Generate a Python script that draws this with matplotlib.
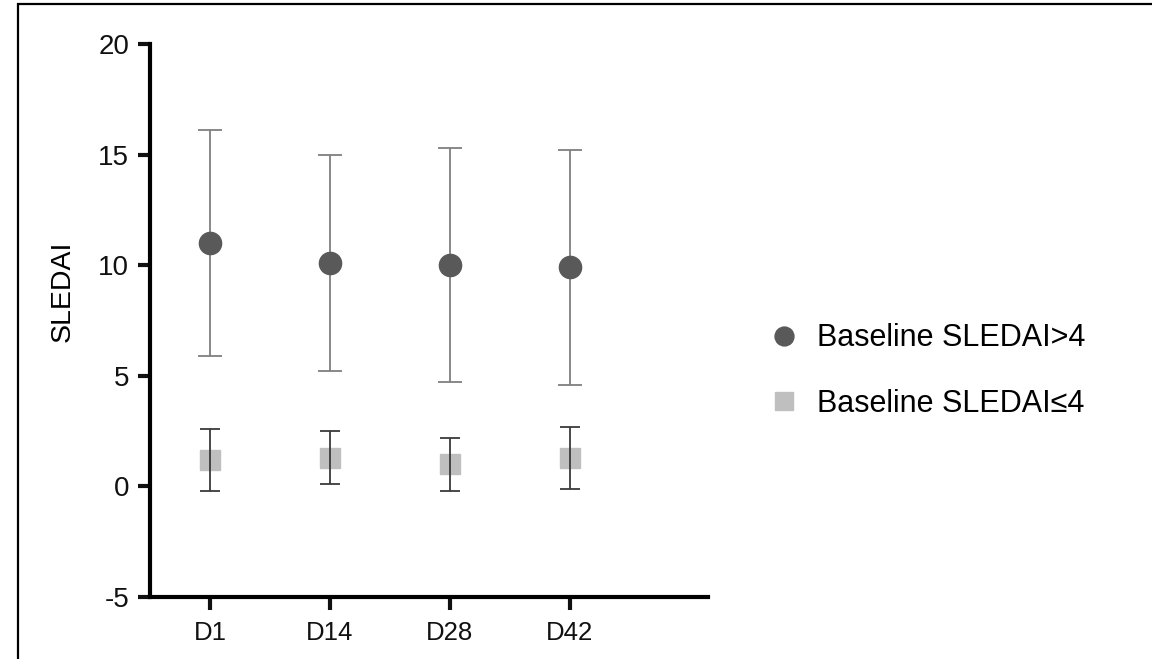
import numpy as np
import matplotlib
matplotlib.use("Agg")
import matplotlib.pyplot as plt
from matplotlib.patches import Rectangle

plt.rcParams['font.family'] = ['Liberation Sans', 'DejaVu Sans']
plt.rcParams['axes.unicode_minus'] = False

#data
days = ['D1', 'D14', 'D28', 'D42']
high_mean = [11.0, 10.1, 10.0, 9.9]
high_sd = [5.1, 4.9, 5.3, 5.3]
low_mean = [1.2, 1.3, 1.0, 1.3]
low_sd = [1.4, 1.2, 1.2, 1.4]

fig = plt.figure(figsize=(11.52, 6.59), dpi=100)
ax = fig.add_axes([150/1152, 62/659, (708-150)/1152, (597-44)/659])

x = np.arange(len(days))

# error bars
ax.errorbar(x, high_mean, yerr=high_sd, fmt='none', ecolor='#7f7f7f',
            elinewidth=1.3, capsize=8.3, capthick=1.3, zorder=2)
ax.errorbar(x, low_mean, yerr=low_sd, fmt='none', ecolor='#3a3a3a',
            elinewidth=1.3, capsize=6.9, capthick=1.3, zorder=2)

# markers
ax.plot(x, high_mean, 'o', ms=16, color='#595959', ls='', zorder=3,
        label='Baseline SLEDAI>4')
ax.plot(x, low_mean, 's', ms=14.5, color='#bfbfbf', ls='', zorder=1,
        label='Baseline SLEDAI≤4')

ax.set_xlim(-0.5, 4.15)
ax.set_ylim(-5, 20)
ax.set_xticks(x)
ax.set_xticklabels(days)
ax.set_yticks([-5, 0, 5, 10, 15, 20])

for s in ['top', 'right']:
    ax.spines[s].set_visible(False)
for s in ['left', 'bottom']:
    ax.spines[s].set_linewidth(3)
    ax.spines[s].set_capstyle('projecting')
ax.tick_params(axis='both', width=3, length=9, colors='#111111')
ax.tick_params(axis='y', labelsize=20, pad=6)
ax.tick_params(axis='x', labelsize=18.5, pad=8)

ax.set_ylabel('SLEDAI', fontsize=20.5)
ax.yaxis.set_label_coords(-0.134, 0.552)

fig.legend(loc='center left', bbox_to_anchor=(756/1152, 1-371/659), frameon=False,
           fontsize=22, borderaxespad=0, handlelength=1.0, handletextpad=0.6,
           labelspacing=1.15, markerscale=0.85)

# outer frame
fig.patches.append(Rectangle((18/1152, -0.1), 1.1, 1.1 - 4/659, transform=fig.transFigure,
                             fill=False, lw=1.6, ec='black'))

fig.savefig('out.png', dpi=100)
